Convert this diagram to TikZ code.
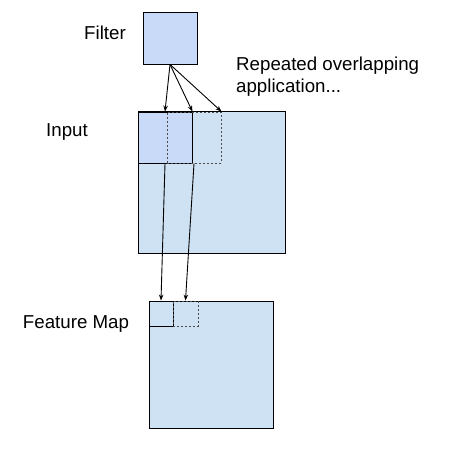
\documentclass[tikz,border=0pt]{standalone}
\usepackage{fontspec}
\setmainfont{Liberation Sans}
\usepackage{tikz}
\usetikzlibrary{arrows.meta}

\definecolor{inblue}{HTML}{CFE2F3}
\definecolor{filblue}{HTML}{C9DAF8}

\begin{document}
\begin{tikzpicture}[x=1pt,y=-1pt,>={Stealth[length=6pt,width=4.5pt]},
 every node/.style={font=\fontsize{18.7}{22.5}\selectfont},
 sq/.style={draw,line width=0.9pt,inner sep=0pt},
 shifted/.style={draw=black!70,line width=0.9pt,dash pattern=on 2pt off 2pt,inner sep=0pt}]
 \useasboundingbox (0,0) rectangle (449,449);
 % squares
 \node[sq,fill=filblue,minimum width=54pt,minimum height=52pt] (filter) at (170,38) {};
 \node[sq,fill=inblue,minimum width=147pt,minimum height=142pt] (input) at (211.5,182) {};
 \node[sq,fill=filblue,minimum width=54pt,minimum height=51pt] (patch) at (165,137.5) {};
 \node[shifted,minimum width=54pt,minimum height=51pt] (patch2) at (194,137.5) {};
 \node[sq,fill=inblue,minimum width=124pt,minimum height=127pt] (fmap) at (211,364.5) {};
 \node[sq,minimum width=24pt,minimum height=25pt] (cell) at (161,313.5) {};
 \node[shifted,minimum width=25pt,minimum height=25pt] (cell2) at (185.5,313.5) {};
 % arrows
 \draw[->,line width=0.9pt] (filter.south) -- (patch.north);
 \draw[->,line width=0.9pt] (filter.south) -- (patch.north east);
 \draw[->,line width=0.9pt] (filter.south) -- (patch2.north east);
 \draw[->,line width=0.9pt] (patch.south) -- (cell.north);
 \draw[->,line width=0.9pt] (patch2.south) -- (cell2.north);
 % labels
 \node (lfilter) at (105,33) {Filter};
 \node (linput) at (67,132) {Input};
 \node (lfmap) at (76,324) {Feature Map};
 \node[anchor=west,align=left,inner sep=0pt] (lrep) at (236,76.5) {Repeated overlapping\\application...};
\end{tikzpicture}
\end{document}
